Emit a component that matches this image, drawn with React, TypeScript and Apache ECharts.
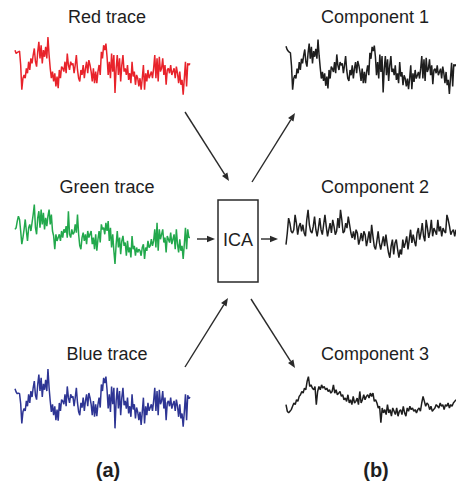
import * as echarts from "echarts";
import { useEffect, useRef } from "react";

// traces, arbitrary units (0 = bottom of the trace band, 200 = top)
const redTrace = [
  145, 135, 138, 140, 142, 100, 25, 60, 70, 60, 90, 75, 110, 85, 120, 105, 130, 150, 110, 95,
  140, 170, 120, 160, 105, 145, 125, 155, 120, 185, 130, 90, 60, 80, 50, 75, 35, 65, 30, 85,
  60, 95, 90, 80, 110, 75, 135, 100, 85, 110, 100, 105, 75, 100, 130, 85, 60, 50, 85, 70,
  100, 60, 90, 110, 75, 115, 100, 80, 50, 90, 45, 80, 45, 80, 100, 70, 140, 120, 160, 145,
  165, 125, 70, 110, 60, 135, 80, 130, 15, 90, 130, 70, 120, 50, 100, 130, 80, 90, 70, 100,
  55, 75, 45, 110, 65, 80, 40, 70, 60, 35, 60, 25, 60, 100, 25, 75, 50, 85, 60, 70,
  80, 60, 90, 130, 60, 120, 50, 125, 80, 90, 120, 70, 100, 40, 85, 90, 75, 100, 70, 80,
  90, 60, 95, 75, 45, 80, 40, 55, 10, 60, 110, 35, 105, 100, 105,
];

const greenTrace = [
  105, 110, 130, 145, 135, 100, 60, 80, 105, 135, 100, 70, 110, 120, 100, 125, 150, 180, 110, 90,
  140, 160, 110, 165, 120, 155, 105, 140, 115, 145, 165, 120, 150, 100, 85, 45, 90, 70, 80, 90,
  70, 100, 80, 105, 95, 115, 80, 160, 90, 80, 105, 90, 95, 120, 95, 150, 90, 55, 45, 80,
  95, 70, 90, 60, 100, 80, 90, 100, 60, 80, 45, 90, 40, 75, 100, 65, 120, 105, 110, 90,
  125, 100, 130, 70, 110, 50, 90, 40, 0, 60, 100, 50, 80, 30, 70, 85, 55, 65, 25, 70,
  35, 50, 20, 85, 45, 55, 25, 50, 35, 45, 40, 25, 50, 60, 15, 50, 40, 70, 50, 55,
  75, 55, 70, 105, 50, 125, 40, 105, 75, 90, 105, 65, 80, 35, 85, 75, 65, 95, 60, 75,
  90, 45, 105, 60, 35, 75, 40, 55, 15, 60, 110, 45, 105, 80, 80,
];

const blueTrace = [
  125, 115, 110, 112, 110, 80, 20, 55, 65, 58, 88, 72, 108, 82, 118, 100, 128, 148, 105, 92,
  138, 168, 118, 158, 100, 140, 122, 152, 118, 185, 128, 88, 55, 78, 45, 72, 30, 62, 28, 82,
  58, 92, 88, 78, 108, 72, 132, 98, 82, 108, 98, 102, 72, 98, 128, 82, 55, 45, 82, 68,
  98, 58, 88, 108, 72, 112, 98, 78, 45, 88, 40, 78, 42, 78, 98, 68, 138, 118, 158, 142,
  162, 122, 65, 108, 55, 132, 78, 128, 5, 88, 128, 65, 118, 45, 98, 128, 75, 88, 65, 98,
  50, 72, 40, 108, 62, 78, 35, 68, 55, 30, 55, 15, 55, 98, 20, 72, 45, 82, 58, 68,
  78, 58, 88, 128, 58, 118, 45, 122, 78, 88, 118, 65, 98, 30, 82, 88, 72, 98, 65, 78,
  88, 58, 92, 72, 40, 78, 35, 50, 10, 55, 108, 30, 105, 95, 100,
];

const component1 = [
  160, 150, 145, 142, 140, 100, 28, 62, 72, 62, 92, 78, 112, 88, 122, 108, 132, 150, 112, 98,
  140, 168, 122, 158, 108, 145, 128, 152, 122, 180, 132, 95, 62, 82, 55, 78, 40, 68, 32, 88,
  62, 98, 92, 82, 112, 78, 135, 102, 88, 112, 102, 108, 78, 102, 130, 88, 62, 55, 88, 72,
  102, 62, 92, 112, 78, 115, 102, 82, 55, 92, 48, 82, 48, 82, 102, 72, 140, 122, 158, 145,
  162, 128, 72, 112, 62, 135, 82, 130, 20, 92, 130, 72, 120, 55, 102, 130, 82, 92, 72, 102,
  58, 78, 48, 112, 68, 82, 42, 72, 62, 38, 62, 30, 62, 102, 30, 78, 52, 88, 62, 72,
  82, 62, 92, 130, 62, 120, 55, 125, 82, 92, 120, 72, 102, 45, 88, 92, 78, 102, 72, 82,
  92, 62, 98, 78, 48, 82, 42, 58, 15, 62, 110, 38, 105, 100, 105,
];

const component2 = [
  65, 100, 145, 130, 105, 100, 110, 155, 130, 95, 120, 130, 105, 125, 100, 90, 140, 170, 125, 105,
  100, 120, 150, 110, 90, 115, 145, 110, 95, 125, 155, 120, 90, 110, 130, 100, 140, 120, 95, 105,
  145, 115, 170, 140, 100, 105, 130, 115, 150, 125, 100, 85, 105, 80, 110, 100, 65, 80, 100, 75,
  105, 95, 60, 80, 105, 70, 125, 90, 60, 50, 75, 105, 70, 50, 70, 90, 60, 95, 65, 40,
  25, 60, 80, 35, 70, 80, 50, 25, 50, 35, 80, 55, 70, 90, 50, 80, 110, 70, 95, 75,
  60, 100, 115, 80, 100, 130, 90, 75, 140, 115, 85, 105, 140, 90, 115, 105, 95, 140, 105, 120,
  90, 115, 105, 100, 155, 140, 120, 95, 105, 110, 90, 110,
];

const component3 = [
  95, 75, 70, 75, 80, 90, 100, 95, 110, 105, 120, 125, 135, 130, 145, 140, 165, 180, 150, 155,
  145, 140, 150, 95, 135, 150, 140, 155, 145, 150, 140, 145, 135, 140, 130, 135, 155, 130, 140, 125,
  130, 135, 120, 125, 110, 115, 105, 125, 100, 110, 95, 120, 100, 105, 115, 95, 135, 100, 110, 125,
  110, 120, 125, 115, 130, 120, 130, 105, 110, 100, 85, 90, 40, 85, 70, 80, 65, 95, 70, 80,
  60, 85, 75, 65, 85, 60, 75, 80, 65, 90, 70, 60, 85, 75, 90, 80, 85, 75, 80, 70,
  80, 85, 75, 100, 120, 105, 90, 100, 95, 80, 90, 75, 80, 85, 95, 90, 85, 100, 90, 95,
  80, 95, 90, 100, 85, 95, 90, 100, 105, 110,
];

const traceTitles = ["Red trace", "Green trace", "Blue trace"];
const componentTitles = ["Component 1", "Component 2", "Component 3"];
const panelLabels = ["(a)", "(b)"];

const FONT = "'Liberation Sans', Arial, sans-serif";

function arrow(x1: number, y1: number, x2: number, y2: number) {
  const ang = Math.atan2(y2 - y1, x2 - x1);
  const len = 8;
  const half = 3.2;
  const bx = x2 - len * Math.cos(ang);
  const by = y2 - len * Math.sin(ang);
  const nx = -Math.sin(ang) * half;
  const ny = Math.cos(ang) * half;
  return [
    {
      type: "line",
      shape: { x1, y1, x2: bx, y2: by },
      style: { stroke: "#2a2a2a", lineWidth: 1.4 },
    },
    {
      type: "polygon",
      shape: { points: [[x2, y2], [bx + nx, by + ny], [bx - nx, by - ny]] },
      style: { fill: "#2a2a2a" },
    },
  ];
}

function title(text: string, x: number, y: number, bold = false) {
  return {
    type: "text",
    x,
    y,
    style: {
      text,
      fill: "#1e1e1e",
      font: `${bold ? "bold 20px" : "18px"} ${FONT}`,
      textAlign: "center",
      textVerticalAlign: "middle",
    },
  };
}

export default function App() {
  const ref = useRef<HTMLDivElement | null>(null);

  useEffect(() => {
    if (!ref.current) return;
    const chart = echarts.init(ref.current, undefined, { renderer: "svg" });

    const panels = [
      { data: redTrace, color: "#e8232b", left: 15, top: 32, width: 175 },
      { data: greenTrace, color: "#22a84c", left: 15, top: 198, width: 175 },
      { data: blueTrace, color: "#2e3594", left: 15, top: 364, width: 175 },
      { data: component1, color: "#1e1e1e", left: 286, top: 33, width: 175 },
      { data: component2, color: "#1e1e1e", left: 286, top: 200, width: 170 },
      { data: component3, color: "#1e1e1e", left: 286, top: 370, width: 170 },
    ];

    chart.setOption({
      animation: false,
      backgroundColor: "#ffffff",
      grid: panels.map((p) => ({ left: p.left, top: p.top, width: p.width, height: 66 })),
      xAxis: panels.map((p, i) => ({
        type: "category",
        gridIndex: i,
        show: false,
        boundaryGap: false,
        data: p.data.map((_, j) => j),
      })),
      yAxis: panels.map((_, i) => ({ type: "value", gridIndex: i, show: false, min: 0, max: 200 })),
      series: panels.map((p, i) => ({
        type: "line",
        xAxisIndex: i,
        yAxisIndex: i,
        data: p.data,
        showSymbol: false,
        clip: false,
        lineStyle: { color: p.color, width: 1.5 },
        itemStyle: { color: p.color },
      })),
      graphic: [
        title(traceTitles[0], 107, 17),
        title(traceTitles[1], 107, 187),
        title(traceTitles[2], 107, 354),
        title(componentTitles[0], 375, 17),
        title(componentTitles[1], 375, 187),
        title(componentTitles[2], 375, 354),
        title(panelLabels[0], 108, 470, true),
        title(panelLabels[1], 376, 470, true),
        {
          type: "rect",
          shape: { x: 218, y: 200, width: 40, height: 82 },
          style: { fill: "none", stroke: "#2a2a2a", lineWidth: 1.5 },
        },
        title("ICA", 238, 240),
        ...arrow(185, 112, 229, 181),
        ...arrow(252, 182, 295, 113),
        ...arrow(197, 239, 215, 239),
        ...arrow(261, 239, 278, 239),
        ...arrow(185, 367, 228, 298),
        ...arrow(251, 299, 295, 368),
      ],
    });

    return () => chart.dispose();
  }, []);

  return (
    <div
      ref={ref}
      style={{ position: "fixed", left: 0, top: 0, width: 456, height: 487, background: "#fff" }}
    />
  );
}
